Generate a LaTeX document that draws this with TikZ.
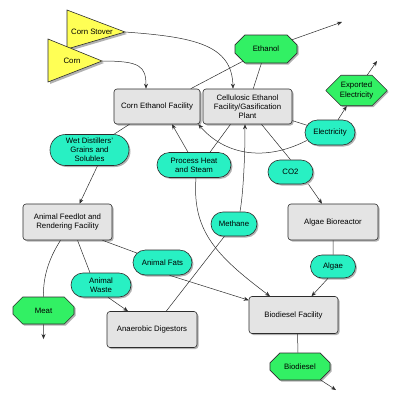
\documentclass[tikz,border=0pt]{standalone}
\usepackage{fontspec}
\setmainfont{Liberation Sans}
\usetikzlibrary{shapes.misc,shadows,arrows.meta}
\definecolor{boxgray}{RGB}{228,228,228}
\definecolor{aqua}{RGB}{40,240,195}
\definecolor{lgreen}{RGB}{50,240,100}
\definecolor{yel}{RGB}{255,255,85}
\definecolor{edgec}{RGB}{45,45,45}
\begin{document}
\begin{tikzpicture}[x=1pt,y=-1pt,
 font=\fontsize{7.8}{9.2}\selectfont,
 shad/.style={drop shadow={shadow xshift=1.5pt,shadow yshift=-1.5pt,fill=black,opacity=0.3}},
 facility/.style={draw=edgec, fill=boxgray, rounded corners=3pt, align=center, shad, line width=0.6pt, inner sep=1pt},
 linkbox/.style={draw=edgec, fill=aqua, rounded rectangle, align=center, shad, line width=0.6pt, inner sep=1pt},
 product/.style={draw=edgec, fill=lgreen, chamfered rectangle, chamfered rectangle xsep=9pt, chamfered rectangle ysep=6pt, align=center, shad, line width=0.6pt, inner sep=1pt},
 con/.style={draw=edgec, line width=0.5pt},
 arr/.style={con, -{Stealth[length=5pt,width=4pt]}}
]
\fill[white] (0,0) rectangle (400,400);
\useasboundingbox (0,0) rectangle (400,400);

% triangles
\fill[black,opacity=0.3] (69,12) -- (69,51) -- (127,34) -- cycle;
\draw[edgec,fill=yel,line width=0.6pt] (67,10) -- (67,49) -- (125,32) -- cycle;
\fill[black,opacity=0.3] (50,41) -- (50,84) -- (104,63) -- cycle;
\draw[edgec,fill=yel,line width=0.6pt] (48,39) -- (48,82) -- (102,61) -- cycle;
\node (stover) at (92,32) {Corn Stover};
\node (corn) at (72,61) {Corn};
\coordinate (stovertip) at (125,32);
\coordinate (corntip) at (102,61);

% facilities
\node[facility, minimum width=86pt, minimum height=35pt] (cef) at (157,106.5) {Corn Ethanol Facility};
\node[facility, minimum width=89pt, minimum height=35pt] (cel) at (247.5,106.5) {Cellulosic Ethanol\\Facility/Gasification\\Plant};
\node[facility, minimum width=90pt, minimum height=36pt] (alb) at (333,222) {Algae Bioreactor};
\node[facility, minimum width=89pt, minimum height=36pt] (feed) at (67.5,222) {Animal Feedlot and\\Rendering Facility};
\node[facility, minimum width=90pt, minimum height=36pt] (ana) at (152,329.5) {Anaerobic Digestors};
\node[facility, minimum width=89pt, minimum height=37pt] (bio) at (293.5,315) {Biodiesel Facility};

% products
\node[product, minimum width=62pt, minimum height=28pt] (eth) at (266,49) {Ethanol};
\node[product, minimum width=61pt, minimum height=26pt] (exp) at (356.5,90.5) {Exported\\Electricity};
\node[product, minimum width=61pt, minimum height=27pt] (meat) at (43.5,310.5) {Meat};
\node[product, minimum width=60pt, minimum height=27pt] (biod) at (300,366.5) {Biodiesel};

% linking phrases
\node[linkbox, minimum width=52pt, minimum height=25pt] (elec) at (330,132.5) {Electricity};
\node[linkbox, minimum width=81pt, minimum height=31pt] (wet) at (89.5,150) {Wet Distillers'\\Grains and\\Solubles};
\node[linkbox, minimum width=76pt, minimum height=25pt] (heat) at (194,165) {Process Heat\\and Steam};
\node[linkbox, minimum width=47pt, minimum height=24pt] (co2) at (290.5,172) {CO2};
\node[linkbox, minimum width=48pt, minimum height=24pt] (meth) at (234,224) {Methane};
\node[linkbox, minimum width=61pt, minimum height=25pt] (fats) at (162.5,262.5) {Animal Fats};
\node[linkbox, minimum width=62pt, minimum height=24pt] (waste) at (101,285) {Animal\\Waste};
\node[linkbox, minimum width=47pt, minimum height=23pt] (algae) at (333,266.5) {Algae};

\coordinate (ethout) at (342,22);
\coordinate (expout) at (377,61);
\coordinate (meatout) at (43.5,339);
\coordinate (biodout) at (336,390);

% connectors
\draw[arr] (stovertip) .. controls (195,37) and (232,45) .. ([xshift=-14.5pt]cel.north);
\draw[arr] (corntip) .. controls (140,61) and (146,66) .. ([xshift=-11pt]cef.north);
\draw[con] (cef) -- (eth);
\draw[con] (cel) -- (eth);
\draw[arr] (eth) -- (ethout);
\draw[con] (cel) -- (elec);
\draw[arr] (elec) -- (exp);
\draw[arr] (exp) -- (expout);
\draw[arr] ([xshift=2pt,yshift=-8pt]elec.west) .. controls (265,162) and (225,155) .. ([xshift=-2pt]cef.south east);
\draw[con] (cef) -- (wet);
\draw[arr] ([xshift=8pt]wet.south) -- ([xshift=12pt]feed.north);
\draw[arr] ([xshift=-6pt]heat.north) -- ([xshift=15pt]cef.south);
\draw[con] ([xshift=16pt]heat.north) -- ([xshift=-17pt]cel.south);
\draw[arr] ([xshift=2pt]heat.south) .. controls (192,230) and (215,255) .. ([xshift=-23.5pt]bio.north);
\draw[con] ([xshift=14pt]cel.south) -- (co2.north);
\draw[arr] ([xshift=18pt]co2.south) -- ([xshift=-11pt]alb.north);
\draw[con] (alb) -- (algae);
\draw[arr] ([xshift=-5pt]algae.south) -- ([xshift=18pt]bio.north);
\draw[con] ([xshift=4pt]bio.south) -- ([xshift=-2pt]biod.north);
\draw[arr] (biod) -- (biodout);
\draw[con] (meth) -- (ana);
\draw[arr] ([xshift=6pt]meth.north) .. controls (243,195) and (245,160) .. ([xshift=-2.5pt]cel.south);
\draw[con] ([xshift=35pt]feed.south) -- (fats);
\draw[arr] ([xshift=7pt]fats.south) -- ([yshift=-4pt]bio.north west);
\draw[con] ([xshift=10pt]feed.south) -- ([xshift=-11pt]waste.north);
\draw[arr] ([xshift=7pt]waste.south) -- ([xshift=-24pt]ana.north);
\draw[con] ([xshift=-7pt]feed.south) .. controls (48,260) and (43,278) .. (meat.north);
\draw[arr] (meat) -- (meatout);
\end{tikzpicture}
\end{document}
